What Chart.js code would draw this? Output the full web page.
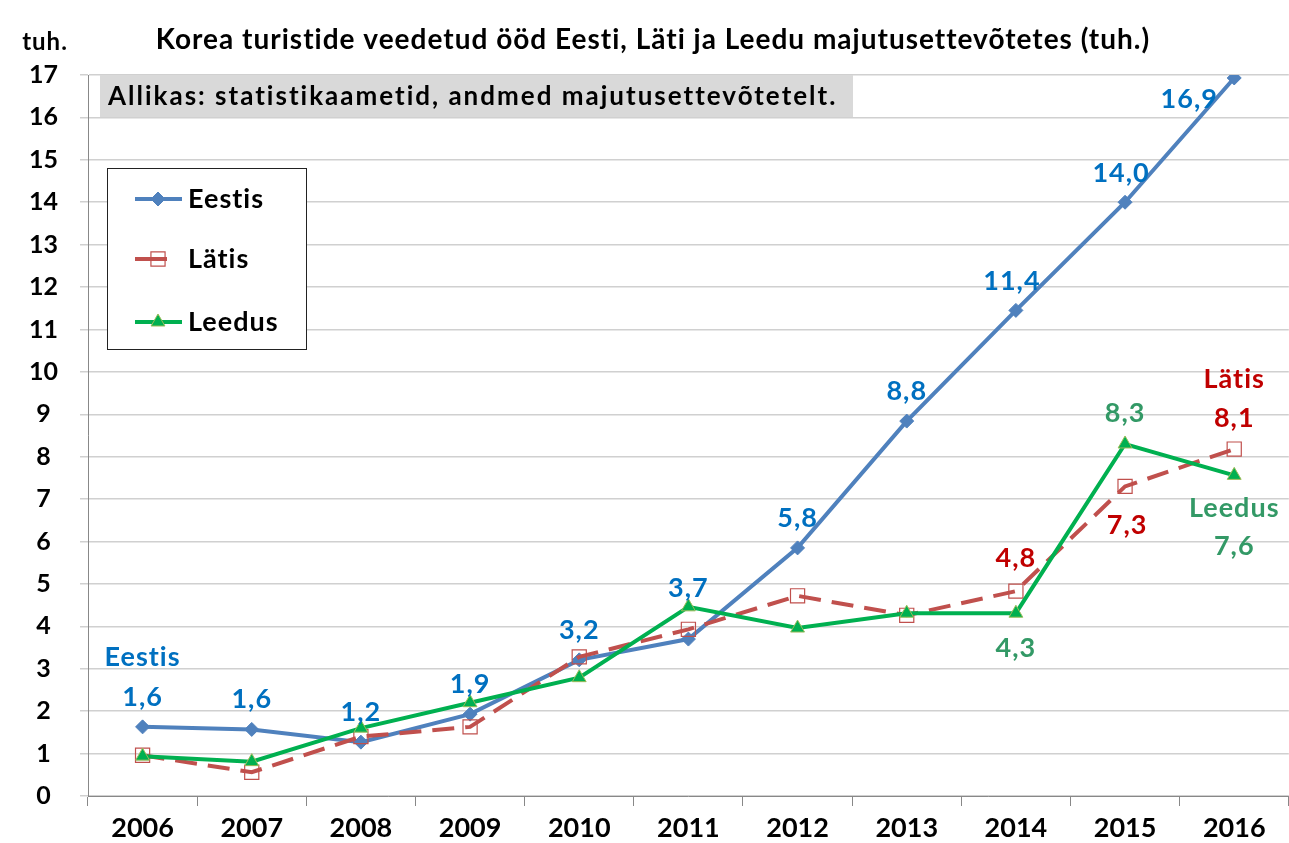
<!DOCTYPE html>
<html>
<head>
<meta charset="utf-8">
<script src="https://cdn.jsdelivr.net/npm/chart.js@4/dist/chart.umd.min.js"></script>
<style>
  html, body { margin: 0; padding: 0; background: #fff; overflow: hidden; }
  #wrap { width: 1300px; height: 843px; }
</style>
</head>
<body>
<div id="wrap"><canvas id="chart" width="1300" height="843"></canvas></div>
<script>
// --- data ---
const years = ['2006', '2007', '2008', '2009', '2010', '2011', '2012', '2013', '2014', '2015', '2016'];
const eestis = [1.63, 1.57, 1.27, 1.93, 3.21, 3.7, 5.85, 8.84, 11.45, 14.0, 16.93];
const latis = [0.96, 0.56, 1.4, 1.63, 3.28, 3.93, 4.72, 4.26, 4.83, 7.3, 8.18];
const leedus = [0.94, 0.81, 1.6, 2.2, 2.79, 4.46, 3.96, 4.31, 4.31, 8.3, 7.56];

const eestisLabels = ['1,6', '1,6', '1,2', '1,9', '3,2', '3,7', '5,8', '8,8', '11,4', '14,0', '16,9'];
const latisLabels = [null, null, null, null, null, null, null, null, '4,8', '7,3', '8,1'];
const leedusLabels = [null, null, null, null, null, null, null, null, '4,3', '8,3', '7,6'];

const yTicks = [0, 1, 2, 3, 4, 5, 6, 7, 8, 9, 10, 11, 12, 13, 14, 15, 16, 17];

const titleText = 'Korea turistide veedetud ööd Eesti, Läti ja Leedu majutusettevõtetes (tuh.)';
const sourceText = 'Allikas: statistikaametid, andmed majutusettevõtetelt.';
const unitText = 'tuh.';

const FONT = 'Lato, "Open Sans", sans-serif';

// where each label sits relative to its point
const labelPlacement = [
    { color: '#0070c0', offsets: { def: [0, -30], 5: [0, -51], 8: [-4, -29], 9: [-4, -29], 10: [-45, 21] }, name: 'Eestis', nameIndex: 0, nameOffset: [0, -70] },
    { color: '#c00000', offsets: { def: [0, -33], 9: [2, 39], 10: [0, -31] }, name: 'Lätis', nameIndex: 10, nameOffset: [0, -70] },
    { color: '#339966', offsets: { def: [0, -31], 8: [0, 35], 10: [0, 71] }, name: 'Leedus', nameIndex: 10, nameOffset: [0, 33] }
];
const seriesLabels = [eestisLabels, latisLabels, leedusLabels];

const overlayPlugin = {
    id: 'overlay',
    beforeDatasetsDraw(chart) {
        const ctx = chart.ctx;
        // source box
        ctx.save();
        ctx.fillStyle = '#d9d9d9';
        ctx.fillRect(100, 75, 753, 42);
        ctx.fillStyle = '#000';
        ctx.font = 'bold 26px ' + FONT;
        ctx.letterSpacing = '2px';
        ctx.textBaseline = 'middle';
        ctx.textAlign = 'left';
        ctx.fillText(sourceText, 108, 97);
        ctx.restore();
    },
    afterDatasetsDraw(chart) {
        const ctx = chart.ctx;
        const xs = chart.scales.x;
        const ys = chart.scales.y;
        ctx.save();
        ctx.textAlign = 'center';
        ctx.textBaseline = 'middle';
        ctx.font = 'bold 27px ' + FONT;
        ctx.letterSpacing = '1px';

        chart.data.datasets.forEach((ds, i) => {
            const place = labelPlacement[i];
            const labels = seriesLabels[i];
            ctx.fillStyle = place.color;
            labels.forEach((txt, j) => {
                if (!txt) return;
                const off = place.offsets[j] || place.offsets.def;
                const px = xs.getPixelForValue(j);
                const py = ys.getPixelForValue(ds.data[j]);
                ctx.fillText(txt, px + off[0], py + off[1]);
            });
            const nx = xs.getPixelForValue(place.nameIndex);
            const ny = ys.getPixelForValue(ds.data[place.nameIndex]);
            ctx.fillText(place.name, nx + place.nameOffset[0], ny + place.nameOffset[1]);
        });

        // title and unit
        ctx.fillStyle = '#000';
        ctx.font = 'bold 28px ' + FONT;
        ctx.letterSpacing = '1px';
        ctx.fillText(titleText, 653, 40);
        ctx.font = 'bold 24px ' + FONT;
        ctx.fillText(unitText, 45, 42);

        // legend
        ctx.fillStyle = '#fff';
        ctx.fillRect(107, 168, 200, 182);
        ctx.strokeStyle = '#222';
        ctx.lineWidth = 1;
        ctx.strokeRect(107.5, 168.5, 199, 181);
        const rows = [199, 259, 322];
        chart.data.datasets.forEach((ds, i) => {
            const y = rows[i];
            ctx.save();
            ctx.strokeStyle = ds.borderColor;
            ctx.lineWidth = ds.borderWidth;
            ctx.beginPath();
            ctx.moveTo(135, y);
            ctx.lineTo(i === 1 ? 167 : 182, y);
            ctx.stroke();
            ctx.restore();
            ctx.save();
            ctx.fillStyle = ds.pointBackgroundColor;
            ctx.strokeStyle = ds.pointBorderColor;
            ctx.lineWidth = ds.pointBorderWidth;
            Chart.helpers.drawPoint(ctx, { pointStyle: ds.pointStyle, radius: ds.pointRadius, rotation: 0, borderWidth: ds.pointBorderWidth }, 158, y);
            ctx.restore();
            ctx.fillStyle = '#000';
            ctx.textAlign = 'left';
            ctx.font = 'bold 27px ' + FONT;
            ctx.fillText(ds.label, 188, y);
        });
        ctx.restore();
    }
};

new Chart(document.getElementById('chart'), {
    type: 'line',
    data: {
        labels: years,
        datasets: [
            {
                label: 'Eestis',
                data: eestis,
                borderColor: '#4f81bd',
                borderWidth: 4,
                pointStyle: 'rectRot',
                pointRadius: 7,
                pointBackgroundColor: '#4f81bd',
                pointBorderColor: '#4f81bd',
                pointBorderWidth: 1,
                tension: 0,
                order: 3
            },
            {
                label: 'Lätis',
                data: latis,
                borderColor: '#c0504d',
                borderWidth: 4,
                borderDash: [22, 11],
                pointStyle: 'rect',
                pointRadius: 10,
                pointBackgroundColor: 'rgba(255,255,255,0)',
                pointBorderColor: '#c0504d',
                pointBorderWidth: 1.2,
                tension: 0,
                order: 2
            },
            {
                label: 'Leedus',
                data: leedus,
                borderColor: '#00b050',
                borderWidth: 4,
                pointStyle: 'triangle',
                pointRadius: 8,
                pointBackgroundColor: '#00b050',
                pointBorderColor: '#9bbb59',
                pointBorderWidth: 1,
                tension: 0,
                order: 1
            }
        ]
    },
    options: {
        responsive: false,
        animation: false,
        layout: { padding: { top: 75, right: 6, left: 0, bottom: 0 } },
        plugins: {
            legend: { display: false },
            tooltip: { enabled: false },
            title: { display: false }
        },
        scales: {
            x: {
                offset: true,
                grid: { offset: true, drawOnChartArea: false, drawTicks: true, tickLength: 10, color: '#888' },
                border: { color: '#888', width: 1 },
                ticks: { color: '#000', font: { family: FONT, size: 27, weight: 'bold' }, padding: 6, maxRotation: 0 },
                afterFit(scale) { scale.height = 47; }
            },
            y: {
                min: 0,
                max: 17,
                afterBuildTicks(scale) { scale.ticks = yTicks.map(v => ({ value: v })); },
                grid: { color: '#d0d0d0', lineWidth: 1.5, tickLength: 8, drawTicks: true },
                border: { color: '#888', width: 1 },
                ticks: { color: '#000', font: { family: FONT, size: 25, weight: 'bold' }, padding: 22, crossAlign: 'center' },
                afterFit(scale) { scale.width = 88; }
            }
        }
    },
    plugins: [overlayPlugin]
});
</script>
</body>
</html>
